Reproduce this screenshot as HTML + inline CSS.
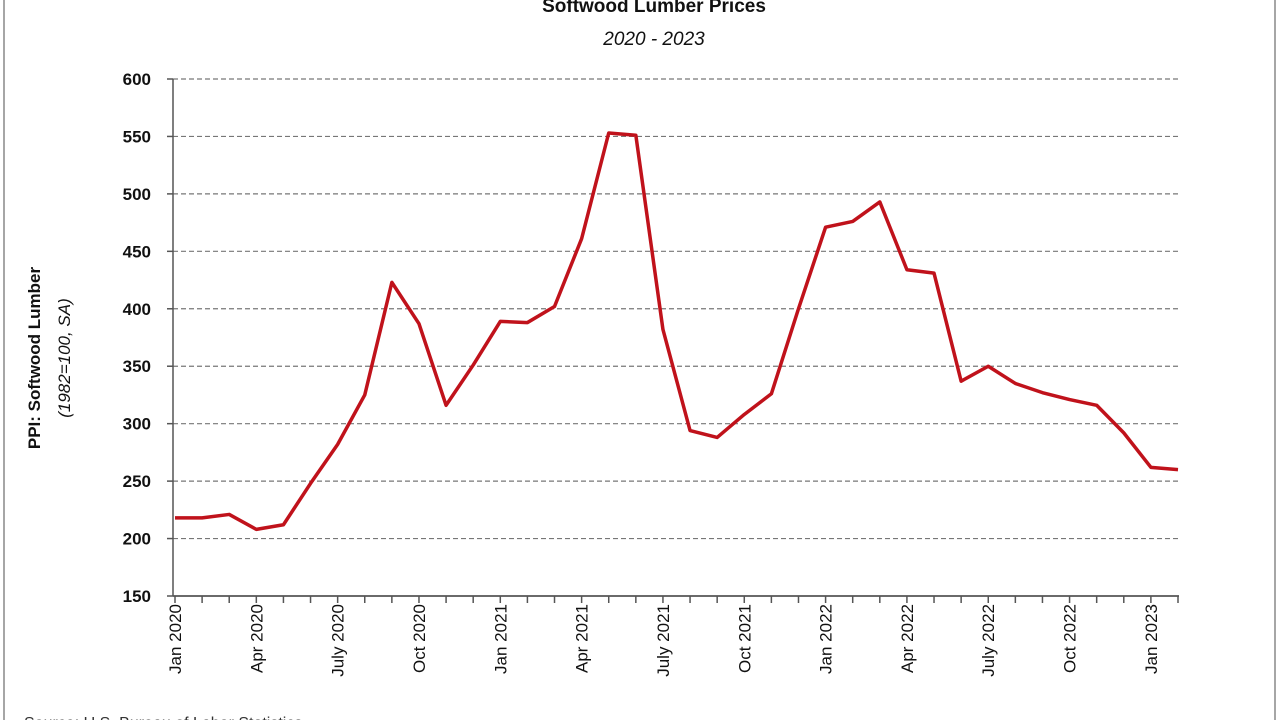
<!DOCTYPE html>
<html><head><meta charset="utf-8"><style>
body{margin:0;background:#fff;width:1280px;height:720px;overflow:hidden;font-family:"Liberation Sans",Arial,sans-serif;}
</style></head><body>
<svg id="chart" width="1280" height="720" xmlns="http://www.w3.org/2000/svg">
<rect x="4" y="-5" width="1271" height="740" fill="none" stroke="#888" stroke-width="1.5"/>
<text x="654" y="12" text-anchor="middle" font-size="19" font-weight="bold" fill="#111">Softwood Lumber Prices</text>
<text x="654" y="45" text-anchor="middle" font-size="19" font-style="italic" fill="#111">2020 - 2023</text>
<g>
<text transform="translate(40,358) rotate(-90)" text-anchor="middle" font-size="17" font-weight="bold" fill="#111">PPI: Softwood Lumber</text>
<text transform="translate(70,358) rotate(-90)" text-anchor="middle" font-size="17" font-style="italic" fill="#111">(1982=100, SA)</text>
</g>
<g id="grid"></g><g id="axes"></g><g id="series"></g>
<text x="24" y="728" font-size="16" fill="#333">Source: U.S. Bureau of Labor Statistics</text>
</svg>
<script>
const months = ["Jan 2020","Feb 2020","Mar 2020","Apr 2020","May 2020","Jun 2020","July 2020","Aug 2020","Sep 2020","Oct 2020","Nov 2020","Dec 2020","Jan 2021","Feb 2021","Mar 2021","Apr 2021","May 2021","Jun 2021","July 2021","Aug 2021","Sep 2021","Oct 2021","Nov 2021","Dec 2021","Jan 2022","Feb 2022","Mar 2022","Apr 2022","May 2022","Jun 2022","July 2022","Aug 2022","Sep 2022","Oct 2022","Nov 2022","Dec 2022","Jan 2023","Feb 2023"];
const values = [218,218,221,208,212,248,282,325,423,387,316,351,389,388,402,461,553,551,382,294,288,308,326,400,471,476,493,434,431,337,350,335,327,321,316,292,262,260];
const yTicks = [150,200,250,300,350,400,450,500,550,600];
const labelEvery = 3;
const NS="http://www.w3.org/2000/svg";
const x0=175,x1=1178,yTop=79,yBot=596,yMin=150,yMax=600;
const xs=i=>x0+(x1-x0)*i/(months.length-1);
const ys=v=>yBot-(v-yMin)/(yMax-yMin)*(yBot-yTop);
function mk(tag,attrs,parent){const e=document.createElementNS(NS,tag);for(const k in attrs)e.setAttribute(k,attrs[k]);parent.appendChild(e);return e;}
const grid=document.getElementById('grid'),axes=document.getElementById('axes'),series=document.getElementById('series');
yTicks.forEach(t=>{
  if(t>yMin){const l=mk('line',{x1:173,x2:1178,y1:ys(t),y2:ys(t),stroke:'#777','stroke-width':1.2,'stroke-dasharray':'5,3'},grid);
  
  }
  const tk=mk('line',{x1:167,x2:173,y1:ys(t),y2:ys(t),stroke:'#555','stroke-width':1.5},axes);
  
  
  const tx=mk('text',{x:151,y:ys(t)+6,'text-anchor':'end','font-size':17,'font-weight':'bold',fill:'#111'},axes);
  tx.textContent=t;
  
  
});
const ya=mk('line',{x1:173,x2:173,y1:yTop,y2:yBot,stroke:'#555','stroke-width':1.5},axes);


const xa=mk('line',{x1:173,x2:1179,y1:yBot,y2:yBot,stroke:'#555','stroke-width':1.8},axes);


months.forEach((m,i)=>{
  const tk=mk('line',{x1:xs(i),x2:xs(i),y1:yBot,y2:yBot+7,stroke:'#555','stroke-width':1.5},axes);
  
  
  if(i%labelEvery===0){
    const tx=mk('text',{transform:`translate(${xs(i)+6},${yBot+8}) rotate(-90)`,'text-anchor':'end','font-size':17,fill:'#111'},axes);
    tx.textContent=m;
    
    
  }
});
const p=mk('polyline',{points:values.map((v,i)=>xs(i)+','+ys(v)).join(' '),fill:'none',stroke:'#c0121b','stroke-width':3.5,'stroke-linejoin':'round'},series);


</script>
</body></html>
